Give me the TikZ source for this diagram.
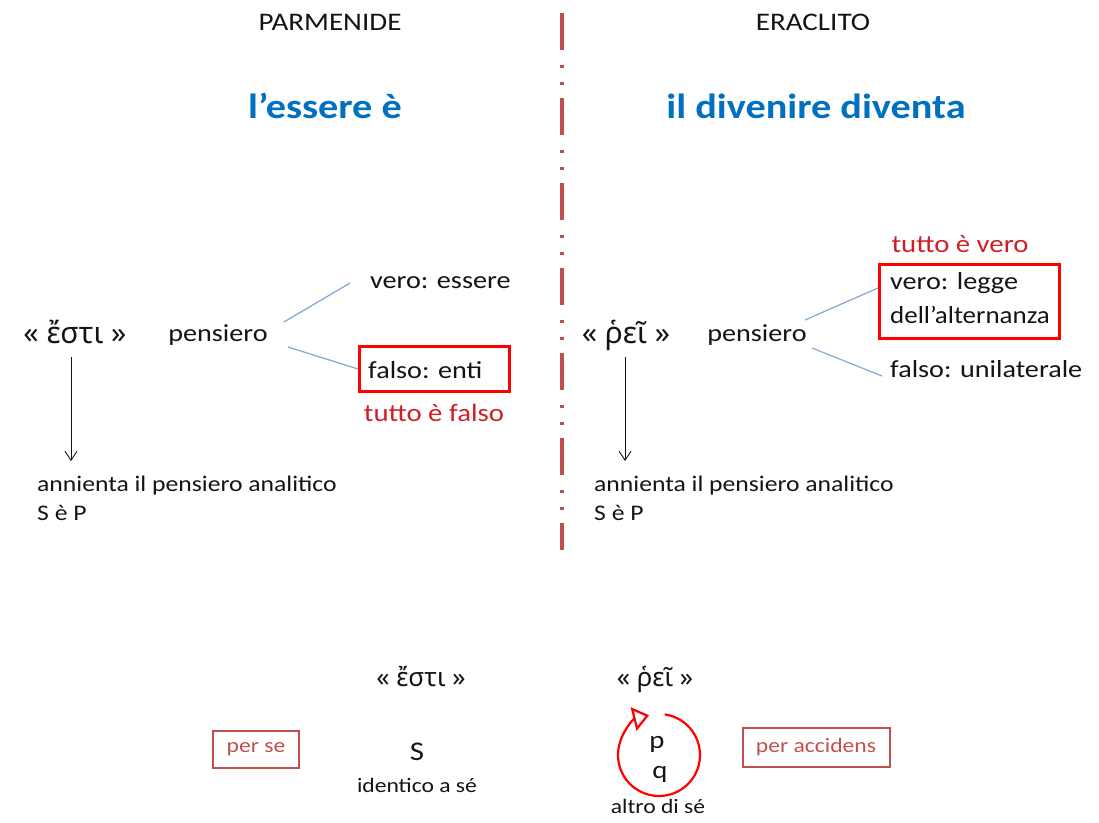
\documentclass[tikz,border=0pt]{standalone}
\usepackage{fontspec}
\usepackage{graphicx}
\setmainfont{Carlito}
\newfontfamily\greekfont{Noto Sans}
\usetikzlibrary{arrows.meta}
\definecolor{titleblue}{RGB}{0,112,192}
\definecolor{linkblue}{RGB}{130,165,210}
\definecolor{notered}{RGB}{204,32,39}
\definecolor{boxred}{RGB}{255,0,0}
\definecolor{softred}{RGB}{192,80,77}
\definecolor{ink}{RGB}{20,20,20}
\newcommand\wx[1]{\scalebox{1.15}[1]{#1}}
\tikzset{
  txt/.style={inner sep=0pt, anchor=base, text=ink},
  main/.style={txt, font=\fontsize{24.5}{34}\selectfont},
  small/.style={txt, font=\fontsize{20.5}{28}\selectfont},
  anni/.style={txt, font=\fontsize{22.3}{28}\selectfont},
  head/.style={txt, font=\fontsize{25.3}{30}\selectfont},
  titl/.style={txt, text=titleblue, font=\fontsize{35}{42}\selectfont\bfseries},
  redtxt/.style={txt, text=notered, font=\fontsize{25}{30}\selectfont},
  greekbig/.style={txt, font=\greekfont\fontsize{30}{36}\selectfont},
  greekmid/.style={txt, font=\greekfont\fontsize{26}{32}\selectfont},
  redbox/.style={draw=boxred, line width=3pt},
  lbox/.style={draw=softred, line width=2pt, text=softred, inner sep=0pt, font=\fontsize{20.5}{24}\selectfont},
  blink/.style={draw=linkblue, line width=1.2pt},
  down/.style={draw=ink, line width=0.9pt, -{Straight Barb[length=9pt,width=12pt]}},
  divider/.style={draw=softred, line width=4pt, dash pattern=on 37pt off 15pt on 3pt off 14pt on 3pt off 13pt},
  cycle/.style={draw=boxred, line width=2.2pt, -{Triangle[open, length=16pt, width=24pt, fill=white, line width=2.2pt]}}
}
\begin{document}
\begin{tikzpicture}[x=1pt, y=-1pt]
\useasboundingbox (0,0) rectangle (1099,822);
% divider
\draw[divider] (562,13) -- (562,550);
% headings
\node[head] (parm) at (330,30) {\wx{PARMENIDE}};
\node[head] (erac) at (813,30) {\wx{ERACLITO}};
\node[titl] (t1) at (325,118) {\wx{l’essere è}};
\node[titl] (t2) at (816,118) {\wx{il divenire diventa}};
% left side
\node[greekbig] (esti) at (75,343) {« ἔστι »};
\node[main] (pl) at (218,341) {\wx{pensiero}};
\node[main, anchor=base west] (ve) at (370,288) {\wx{vero: essere}};
\node[redbox, anchor=north west, minimum width=150pt, minimum height=45pt, inner sep=0pt] (fe) at (358,345) {};
\node[main, anchor=base west] (fet) at (368,378) {\wx{falso: enti}};
\node[redtxt] (tf) at (434,421) {\wx{tutto è falso}};
\coordinate (l1a) at (284,322);
\coordinate (l1b) at (350,283);
\coordinate (l2a) at (288,347);
\coordinate (l2b) at (fe.west);
\draw[blink] (l1a) -- (l1b);
\draw[blink] (l2a) -- (l2b);
\coordinate (al) at (71,357);
\node[anni, anchor=base west] (anl) at (37,491) {\wx{annienta il pensiero analitico}};
\node[anni, anchor=base west] (sepl) at (37,520) {\wx{S è P}};
\draw[down] (al) -- (71,461) coordinate (alend);
% right side
\node[greekbig] (rei) at (626,343) {« ῥεῖ »};
\node[main] (pr) at (757,341) {\wx{pensiero}};
\node[redtxt] (tv) at (960,252) {\wx{tutto è vero}};
\node[redbox, anchor=north west, minimum width=180pt, minimum height=74pt, inner sep=0pt] (vl) at (878,263) {};
\node[main, anchor=base west] (vlt1) at (890,289) {\wx{vero: legge}};
\node[main, anchor=base west] (vlt2) at (890,323) {\scalebox{1.1}[1]{dell’alternanza}};
\node[main, anchor=base west] (fu) at (890,377) {\wx{falso: unilaterale}};
\coordinate (r1a) at (805,320);
\coordinate (r2a) at (812,348);
\coordinate (r2b) at (882,376);
\draw[blink] (r1a) -- ([yshift=-25pt]vl.north west);
\draw[blink] (r2a) -- (r2b);
\coordinate (ar) at (625,357);
\draw[down] (ar) -- (625,461) coordinate (arend);
\node[anni, anchor=base west] (anr) at (594,491) {\wx{annienta il pensiero analitico}};
\node[anni, anchor=base west] (sepr) at (594,520) {\wx{S è P}};
% bottom
\node[greekmid] (esti2) at (421,686) {« ἔστι »};
\node[greekmid] (rei2) at (655,686) {« ῥεῖ »};
\node[lbox, minimum width=86pt, minimum height=37pt] (perse) at (256,749) {\wx{per se}};
\node[lbox, minimum width=147pt, minimum height=39pt] (peracc) at (816,747) {\wx{per accidens}};
\node[txt, font=\fontsize{27}{30}\selectfont] (S) at (417,760) {\wx{S}};
\node[small] (id) at (417,792) {\wx{identico a sé}};
\coordinate (cc) at (659,755);
\draw[cycle] (cc) ++(-82:41) arc[start angle=-82, end angle=256, radius=41];
\node[txt, font=\fontsize{25}{30}\selectfont] (p) at (657,748) {\wx{p}};
\node[txt, font=\fontsize{25}{30}\selectfont] (q) at (660,778) {\wx{q}};
\node[small] (alt) at (658,813) {\wx{altro di sé}};
\end{tikzpicture}
\end{document}
